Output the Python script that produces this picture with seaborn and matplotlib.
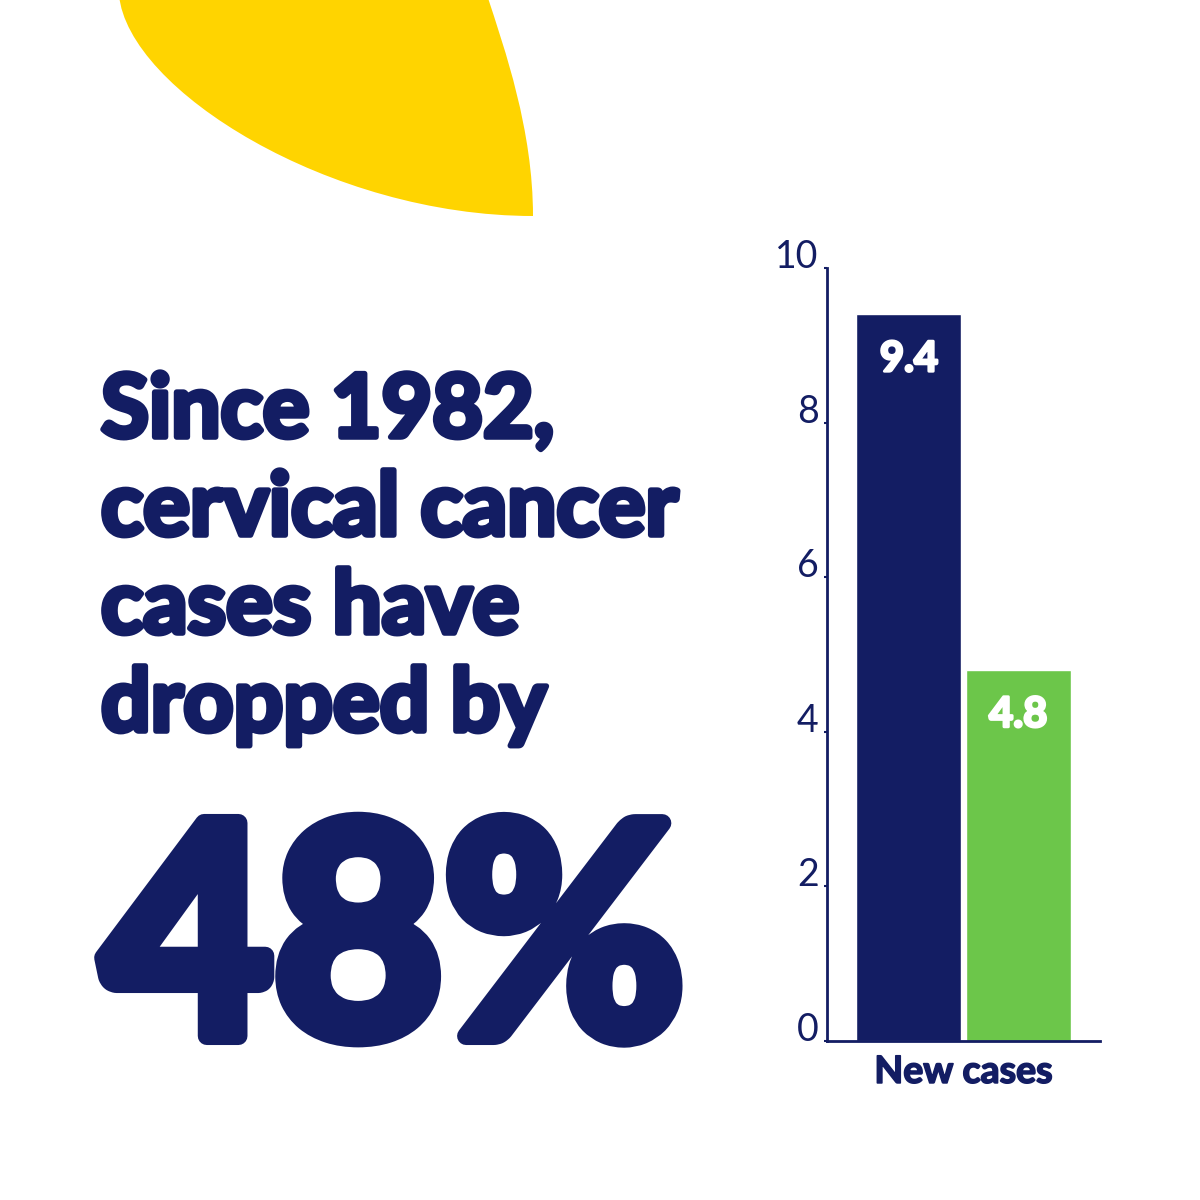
import matplotlib
matplotlib.use('Agg')
from matplotlib import pyplot as plt
from matplotlib.path import Path
from matplotlib.patches import PathPatch
import matplotlib.patheffects as pe
import seaborn as sns
import pandas as pd

# data
group = ['New cases', 'New cases']
period = ['1982', 'now']
values = [9.4, 4.8]
yticks = [0, 2, 4, 6, 8, 10]
headline = ['Since 1982,', 'cervical cancer', 'cases have', 'dropped by']
big_number = '48%'

navy = '#131D63'
green = '#6CC64A'
yellow = '#FFD400'

sns.set_style('white')
plt.rcParams['font.family'] = ['Lato', 'DejaVu Sans']

df = pd.DataFrame({'group': group, 'period': period, 'value': values})

fig = plt.figure(figsize=(12, 12), dpi=100)
fig.patch.set_facecolor('white')


def px(x, y):
    # pixel position (from top left) to figure fraction
    return x / 1200, 1 - y / 1200


# yellow leaf in the top left corner
verts = [px(119, -5), px(128, 90), px(330, 216), px(533, 216),
         px(533, 130), px(505, 50), px(487, -5), px(119, -5)]
codes = [Path.MOVETO, Path.CURVE4, Path.CURVE4, Path.CURVE4,
         Path.CURVE4, Path.CURVE4, Path.CURVE4, Path.CLOSEPOLY]
fig.patches.append(PathPatch(Path(verts, codes), transform=fig.transFigure,
                             facecolor=yellow, edgecolor='none'))

# headline text, thickened a little with a stroke
heavy = [pe.withStroke(linewidth=4, foreground=navy)]
for i, line in enumerate(headline):
    x, y = px(101, 437 + i * 98)
    fig.text(x, y, line, fontsize=63, fontweight='bold', color=navy,
             va='baseline', ha='left', path_effects=heavy)
x, y = px(102, 1036)
fig.text(x, y, big_number, fontsize=212, fontweight='bold', color=navy,
         va='baseline', ha='left',
         path_effects=[pe.withStroke(linewidth=13, foreground=navy)])

# bar chart
l, b = px(827, 1041)
r, t = px(1100, 268)
ax = fig.add_axes([l, b, r - l, t - b])
sns.barplot(data=df, x='group', y='value', hue='period',
            palette=[navy, green], width=0.8, gap=0.04, legend=False,
            saturation=1, ax=ax)
ax.set_xlim(-0.5, 0.5)
ax.set_ylim(0, 10)
ax.set_yticks(yticks)
ax.set_xlabel('')
ax.set_ylabel('')
ax.set_facecolor('none')

for side in ['top', 'right']:
    ax.spines[side].set_visible(False)
for side in ['left', 'bottom']:
    ax.spines[side].set_color(navy)
    ax.spines[side].set_linewidth(2)

ax.tick_params(axis='y', length=2, width=1.5, color=navy, pad=4,
               labelsize=27, labelcolor=navy, left=True)
ax.tick_params(axis='x', length=0, pad=10, labelsize=27, labelcolor=navy)
for lab in ax.get_yticklabels():
    lab.set_fontweight('normal')
    lab.set_va('baseline')
for lab in ax.get_xticklabels():
    lab.set_fontweight('bold')
    lab.set_path_effects([pe.withStroke(linewidth=1.2, foreground=navy)])

for cont in ax.containers:
    labs = ax.bar_label(cont, fmt='%.1f', padding=-46, color='white',
                        fontsize=30, fontweight='bold')
    for lab in labs:
        lab.set_path_effects([pe.withStroke(linewidth=2, foreground='white')])

fig.savefig('out.png', dpi=100, facecolor='white')
